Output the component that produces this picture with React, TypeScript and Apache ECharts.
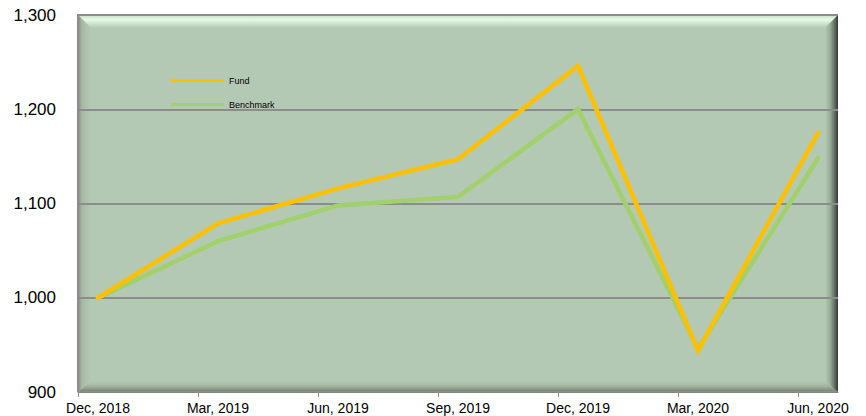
import React, { useEffect, useRef } from "react";
import * as echarts from "echarts";

const categories = ["Dec, 2018", "Mar, 2019", "Jun, 2019", "Sep, 2019", "Dec, 2019", "Mar, 2020", "Jun, 2020"];
const fund = [1000, 1079, 1116, 1147, 1246, 944, 1175];
const benchmark = [1000, 1060, 1098, 1107, 1200, 946, 1148];
const yMin = 900;
const yMax = 1300;
const yStep = 100;

// x layout: each quarter = 6 sub-units, first point 1 sub-unit from the left frame
const SUB = 6;
const OFFSET = 1;
const xMax = SUB * (categories.length - 1) + OFFSET * 2;
const xOf = (i: number) => OFFSET + SUB * i;

const L = 78, T = 15, R = 838, B = 392, BW = 13;
const BASE = "#B4C9B3";

export default function App() {
  const ref = useRef<HTMLDivElement>(null);
  useEffect(() => {
    const chart = echarts.init(ref.current!, null, { renderer: "svg" });
    const lg = (x1: number, y1: number, x2: number, y2: number, stops: [number, string][]) =>
      new echarts.graphic.LinearGradient(x1, y1, x2, y2, stops.map(([offset, color]) => ({ offset, color })));
    chart.setOption({
      animation: false,
      textStyle: { fontFamily: "'Liberation Sans', Arial, sans-serif" },
      grid: { left: L, right: 866 - R, top: T, bottom: 416 - B, containLabel: false },
      graphic: [
        { type: "rect", z: -5, shape: { x: L, y: T, width: R - L, height: B - T }, style: { fill: BASE } },
        {
          type: "polygon", z: -4,
          shape: { points: [[L, T], [R, T], [R - BW, T + BW], [L + BW, T + BW]] },
          style: { fill: lg(0, 0, 0, 1, [[0, "#c4dcc4"], [0.35, "#e6fbe6"], [0.6, "#d2e8d1"], [1, BASE]]) },
        },
        {
          type: "polygon", z: -4,
          shape: { points: [[L, T], [L + BW, T + BW], [L + BW, B - BW + 2], [L, B]] },
          style: { fill: lg(0, 0, 1, 0, [[0, "#7f8c7f"], [0.3, "#a7b9a6"], [1, BASE]]) },
        },
        {
          type: "polygon", z: -4,
          shape: { points: [[L, B], [L + BW, B - BW + 2], [R - BW, B - BW + 2], [R, B]] },
          style: { fill: lg(0, 0, 0, 1, [[0, BASE], [0.5, "#a1b3a0"], [1, "#6f7d6f"]]) },
        },
        {
          type: "polygon", z: -4,
          shape: { points: [[R, T], [R, B], [R - BW, B - BW + 2], [R - BW, T + BW]] },
          style: { fill: lg(0, 0, 1, 0, [[0, BASE], [0.4, "#98ab97"], [0.75, "#5f6d60"], [1, "#2f3a32"]]) },
        },
        {
          type: "polyline", z: -3,
          shape: { points: [[L, B], [L, T], [R, T]] },
          style: { stroke: "#8c8c8c", lineWidth: 2, fill: null },
        },
      ],
      legend: {
        orient: "vertical",
        left: 166,
        top: 71,
        icon: "rect",
        itemWidth: 53,
        itemHeight: 3,
        itemGap: 15,
        data: ["Fund", "Benchmark"],
        textStyle: { fontSize: 9, color: "#000", fontFamily: "'Liberation Sans', Arial, sans-serif", padding: [0, 0, 0, 0] },
      },
      xAxis: {
        type: "value",
        min: 0,
        max: xMax,
        axisLine: { show: true, lineStyle: { color: "#7d8a7d", width: 1 } },
        splitLine: { show: false },
        axisTick: {
          show: true,
          inside: false,
          length: 5,
          lineStyle: { color: "#8c8c8c", width: 1 },
          customValues: categories.map((_, i) => xOf(i) - OFFSET),
        },
        axisLabel: {
          customValues: categories.map((_, i) => xOf(i)),
          formatter: (v: number) => categories[Math.round((v - OFFSET) / SUB)] ?? "",
          color: "#000",
          fontSize: 14,
          margin: 9,
          fontFamily: "'Liberation Sans', Arial, sans-serif",
        },
      },
      yAxis: {
        type: "value",
        min: yMin,
        max: yMax,
        interval: yStep,
        axisLine: { show: false },
        axisTick: { show: false },
        splitLine: { show: true, lineStyle: { color: "#8c8c8c", width: 2 } },
        axisLabel: {
          color: "#000",
          fontSize: 17,
          margin: 22,
          fontFamily: "'Liberation Sans', Arial, sans-serif",
          formatter: (v: number) => v.toLocaleString("en-US"),
        },
      },
      series: [
        {
          name: "Benchmark",
          type: "line",
          symbol: "none",
          z: 3,
          color: "#A2D06B",
          lineStyle: { color: "#A2D06B", width: 4.5, cap: "round", join: "miter" },
          data: benchmark.map((v, i) => [xOf(i), v]),
        },
        {
          name: "Fund",
          type: "line",
          symbol: "none",
          z: 4,
          color: "#FFC000",
          lineStyle: { color: "#FFC000", width: 4.5, cap: "round", join: "miter" },
          data: fund.map((v, i) => [xOf(i), v]),
        },
      ],
    });
    return () => chart.dispose();
  }, []);
  return <div ref={ref} style={{ position: "absolute", left: 0, top: 0, width: 866, height: 416 }} />;
}
